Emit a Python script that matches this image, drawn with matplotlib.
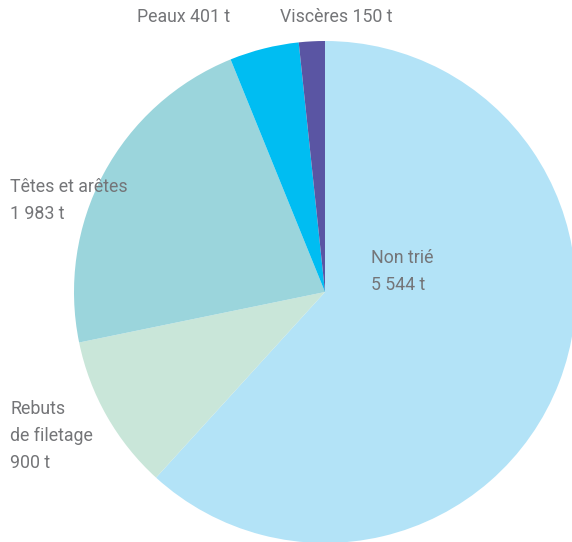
import matplotlib
matplotlib.use("Agg")
import matplotlib.pyplot as plt

labels = ["Non trié", "Rebuts de filetage", "Têtes et arêtes", "Peaux", "Viscères"]
values = [5544, 900, 1983, 401, 150]
colors = ["#b3e3f7", "#c9e6d9", "#9bd5dc", "#00bdf2", "#5a55a3"]

W, H = 572, 542
fig = plt.figure(figsize=(W / 100, H / 100), dpi=100)
ax = fig.add_axes([0, 0, 1, 1])

ax.pie(values, colors=colors, startangle=90, counterclock=False,
       center=(325, H - 292), radius=251, frame=True,
       wedgeprops=dict(linewidth=0))
ax.set_xlim(0, W)
ax.set_ylim(0, H)
ax.set_aspect("equal")
ax.axis("off")

tc = "#747578"
fs = 12.8
font = dict(family=["Roboto", "DejaVu Sans"], fontweight="normal", color=tc, fontsize=fs)

def txt(x, y, s):
    ax.text(x, H - y, s, ha="left", va="center", **font)

txt(137, 17, "Peaux 401 t")
txt(280, 17, "Viscères 150 t")
txt(10, 187, "Têtes et arêtes")
txt(10, 214, "1 983 t")
txt(10, 409, "Rebuts")
txt(10, 436, "de filetage")
txt(10, 463, "900 t")
txt(371, 258, "Non trié")
txt(371, 285, "5 544 t")

fig.savefig("out.png", dpi=100)
